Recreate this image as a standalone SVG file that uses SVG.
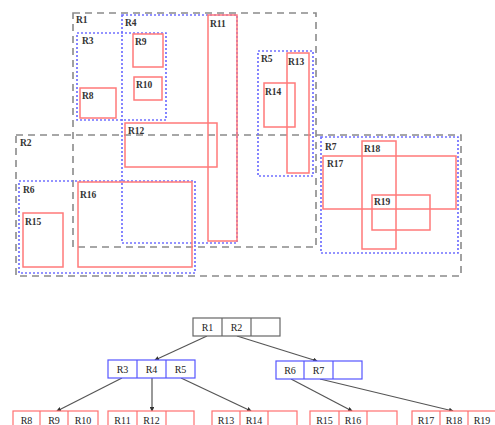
<svg xmlns="http://www.w3.org/2000/svg" width="495" height="425" viewBox="0 0 495 425">
<defs>
<style>
.g{fill:none;stroke:#8a8a8a;stroke-width:1.6;stroke-dasharray:7,5}
.b{fill:none;stroke:#7070ff;stroke-width:1.7;stroke-dasharray:2,2}
.r{fill:none;stroke:#ff7a7a;stroke-width:1.5}
.t{font-family:"Liberation Serif",serif;font-size:9.5px;font-weight:bold;fill:#333}
.tn{font-family:"Liberation Serif",serif;font-size:10px;fill:#222;text-anchor:middle}
.nk{fill:#fff;stroke:#666;stroke-width:1.2}
.nb{fill:#fff;stroke:#5555ff;stroke-width:1.2}
.nr{fill:#fff;stroke:#ff7070;stroke-width:1.2}
.c{stroke:#555;stroke-width:1.2;fill:none;marker-end:url(#a)}
</style>
<marker id="a" viewBox="0 0 6 6" refX="5" refY="3" markerWidth="4" markerHeight="4" orient="auto"><path d="M0,0L6,3L0,6z" fill="#333"/></marker>
</defs>
<g id="spatial">
<g id="R1"><rect class="g" x="73" y="13" width="243" height="234"/><text class="t" x="76" y="23">R1</text></g>
<g id="R2"><rect class="g" x="16" y="135" width="445" height="141"/><text class="t" x="20" y="146">R2</text></g>
<g id="R3"><rect class="b" x="77" y="33" width="89" height="87"/><text class="t" x="82" y="44">R3</text></g>
<g id="R4"><rect class="b" x="122" y="15" width="115" height="228"/><text class="t" x="125" y="26">R4</text></g>
<g id="R5"><rect class="b" x="258" y="51" width="55" height="125"/><text class="t" x="261" y="62">R5</text></g>
<g id="R6"><rect class="b" x="19" y="181" width="176" height="92"/><text class="t" x="23" y="193">R6</text></g>
<g id="R7"><rect class="b" x="321" y="137" width="137" height="116"/><text class="t" x="325" y="150">R7</text></g>
<g id="R8"><rect class="r" x="80" y="88" width="36" height="30"/><text class="t" x="82" y="99">R8</text></g>
<g id="R9"><rect class="r" x="133" y="34" width="30" height="33"/><text class="t" x="135" y="45">R9</text></g>
<g id="R10"><rect class="r" x="134" y="77" width="28" height="23"/><text class="t" x="136" y="88">R10</text></g>
<g id="R11"><rect class="r" x="208" y="15" width="29" height="226"/><text class="t" x="210" y="27">R11</text></g>
<g id="R12"><rect class="r" x="125" y="123" width="92" height="44"/><text class="t" x="128" y="134">R12</text></g>
<g id="R13"><rect class="r" x="287" y="53" width="22" height="120"/><text class="t" x="288" y="65">R13</text></g>
<g id="R14"><rect class="r" x="264" y="83" width="31" height="44"/><text class="t" x="265" y="95">R14</text></g>
<g id="R15"><rect class="r" x="23" y="213" width="40" height="54"/><text class="t" x="25" y="225">R15</text></g>
<g id="R16"><rect class="r" x="78" y="182" width="114" height="85"/><text class="t" x="80" y="198">R16</text></g>
<g id="R17"><rect class="r" x="323" y="156" width="133" height="53"/><text class="t" x="327" y="167">R17</text></g>
<g id="R18"><rect class="r" x="362" y="141" width="34" height="108"/><text class="t" x="364" y="152">R18</text></g>
<g id="R19"><rect class="r" x="372" y="195" width="58" height="35"/><text class="t" x="374" y="205">R19</text></g>
</g>
<g id="connectors">
<line class="c" x1="207" y1="336" x2="155" y2="360"/>
<line class="c" x1="237" y1="336" x2="317" y2="361"/>
<line class="c" x1="122" y1="378" x2="57" y2="411"/>
<line class="c" x1="152" y1="378" x2="152" y2="411"/>
<line class="c" x1="181" y1="378" x2="251" y2="411"/>
<line class="c" x1="291" y1="379" x2="352" y2="411"/>
<line class="c" x1="320" y1="379" x2="453" y2="411"/>
</g>
<g id="root">
<rect class="nk" x="193" y="318" width="87" height="18"/>
<line x1="222" y1="318" x2="222" y2="336" stroke="#666" stroke-width="1.2"/>
<line x1="251" y1="318" x2="251" y2="336" stroke="#666" stroke-width="1.2"/>
<text class="tn" x="207.5" y="330.5">R1</text><text class="tn" x="236.5" y="330.5">R2</text>
</g>
<g id="nodeA">
<rect class="nb" x="108" y="360" width="87" height="18"/>
<line x1="137" y1="360" x2="137" y2="378" stroke="#5555ff" stroke-width="1.2"/>
<line x1="166" y1="360" x2="166" y2="378" stroke="#5555ff" stroke-width="1.2"/>
<text class="tn" x="122.5" y="372.5">R3</text><text class="tn" x="151.5" y="372.5">R4</text><text class="tn" x="180.5" y="372.5">R5</text>
</g>
<g id="nodeB">
<rect class="nb" x="276" y="361" width="86" height="18"/>
<line x1="304" y1="361" x2="304" y2="379" stroke="#5555ff" stroke-width="1.2"/>
<line x1="333" y1="361" x2="333" y2="379" stroke="#5555ff" stroke-width="1.2"/>
<text class="tn" x="290" y="373.5">R6</text><text class="tn" x="318.5" y="373.5">R7</text>
</g>
<g id="leaf1">
<rect class="nr" x="13" y="411" width="85" height="18"/>
<line x1="40" y1="411" x2="40" y2="429" stroke="#ff7070" stroke-width="1.2"/>
<line x1="68" y1="411" x2="68" y2="429" stroke="#ff7070" stroke-width="1.2"/>
<text class="tn" x="26.5" y="423.5">R8</text><text class="tn" x="54" y="423.5">R9</text><text class="tn" x="83" y="423.5">R10</text>
</g>
<g id="leaf2">
<rect class="nr" x="108" y="411" width="86" height="18"/>
<line x1="137" y1="411" x2="137" y2="429" stroke="#ff7070" stroke-width="1.2"/>
<line x1="166" y1="411" x2="166" y2="429" stroke="#ff7070" stroke-width="1.2"/>
<text class="tn" x="122.5" y="423.5">R11</text><text class="tn" x="151.5" y="423.5">R12</text>
</g>
<g id="leaf3">
<rect class="nr" x="212" y="411" width="85" height="18"/>
<line x1="240" y1="411" x2="240" y2="429" stroke="#ff7070" stroke-width="1.2"/>
<line x1="268" y1="411" x2="268" y2="429" stroke="#ff7070" stroke-width="1.2"/>
<text class="tn" x="226" y="423.5">R13</text><text class="tn" x="254" y="423.5">R14</text>
</g>
<g id="leaf4">
<rect class="nr" x="310" y="411" width="87" height="18"/>
<line x1="339" y1="411" x2="339" y2="429" stroke="#ff7070" stroke-width="1.2"/>
<line x1="367" y1="411" x2="367" y2="429" stroke="#ff7070" stroke-width="1.2"/>
<text class="tn" x="324.5" y="423.5">R15</text><text class="tn" x="353" y="423.5">R16</text>
</g>
<g id="leaf5">
<rect class="nr" x="412" y="411" width="85" height="18"/>
<line x1="440" y1="411" x2="440" y2="429" stroke="#ff7070" stroke-width="1.2"/>
<line x1="468" y1="411" x2="468" y2="429" stroke="#ff7070" stroke-width="1.2"/>
<text class="tn" x="426" y="423.5">R17</text><text class="tn" x="454" y="423.5">R18</text><text class="tn" x="482" y="423.5">R19</text>
</g>
</svg>
